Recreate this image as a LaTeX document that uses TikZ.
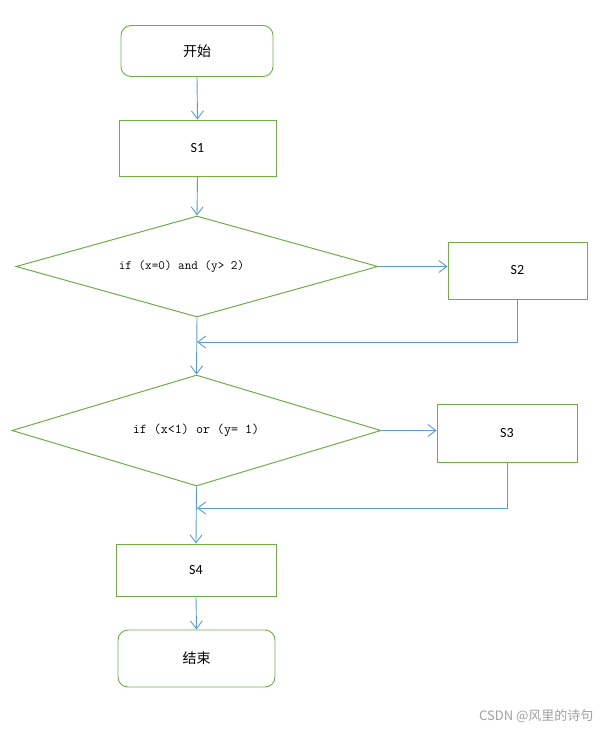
\documentclass[tikz,border=0pt]{standalone}
\usepackage{fontspec}
\setmainfont{Carlito}
\newfontfamily\cjk{Noto Sans CJK SC}
\usetikzlibrary{shapes.geometric,arrows.meta}
\definecolor{boxgreen}{HTML}{70AD47}
\definecolor{lineblue}{HTML}{5B9BD5}
\definecolor{wmgray}{HTML}{A0A0A0}
\tikzset{
  box/.style={draw=boxgreen, line width=0.9pt, rectangle, inner sep=0pt, font=\fontsize{14}{16}\selectfont},
  term/.style={box, rounded corners=10pt, font=\cjk\fontsize{14}{16}\selectfont},
  dec/.style={draw=boxgreen, line width=1.0pt, diamond, inner sep=0pt},
  condtext/.style={inner sep=0pt},
  conn/.style={draw=lineblue, line width=0.9pt, -{Straight Barb[length=8pt,width=12pt]}}
}
\begin{document}
\begin{tikzpicture}[x=1pt,y=-1pt]
\useasboundingbox (0,0) rectangle (611,734);
\node[term, minimum width=152pt, minimum height=51pt] (start) at (197,51) {开始};
\node[box, minimum width=157pt, minimum height=56pt] (s1) at (197.5,148) {S1};
\node[dec, aspect=3.58, minimum width=362pt, minimum height=101pt] (d1) at (197,266.5) {};
\node[condtext, font=\ttfamily\fontsize{12.8}{14}\selectfont] (t1) at (181.5,266.5) {if (x=0) and (y> 2)};
\node[box, minimum width=139pt, minimum height=57pt] (s2) at (517.5,270.5) {S2};
\node[dec, aspect=3.32, minimum width=369pt, minimum height=111pt] (d2) at (196.5,430.5) {};
\node[condtext, font=\ttfamily\fontsize{13.6}{15}\selectfont] (t2) at (196,430.5) {if (x<1) or (y= 1)};
\node[box, minimum width=140pt, minimum height=58pt] (s3) at (507,433) {S3};
\node[box, minimum width=160pt, minimum height=52pt] (s4) at (196,570) {S4};
\node[term, minimum width=157pt, minimum height=57pt] (end) at (196.5,658.5) {结束};
\node[text=wmgray, font=\cjk\fontsize{13}{15}\selectfont, anchor=east] (wm) at (597,716) {CSDN @风里的诗句};
\coordinate (m1) at (197,342);
\coordinate (m2) at (197,508);
\draw[conn] (start.south) -- (s1.north);
\draw[conn] (s1.south) -- (d1.north);
\draw[conn] (d1.east) -- (d1.east -| s2.west);
\draw[conn] (s2.south) |- (m1);
\draw[conn] (d1.south) -- (d2.north);
\draw[conn] (d2.east) -- (d2.east -| s3.west);
\draw[conn] (s3.south) |- (m2);
\draw[conn] (d2.south) -- (s4.north);
\draw[conn] (s4.south) -- (end.north);
\end{tikzpicture}
\end{document}
